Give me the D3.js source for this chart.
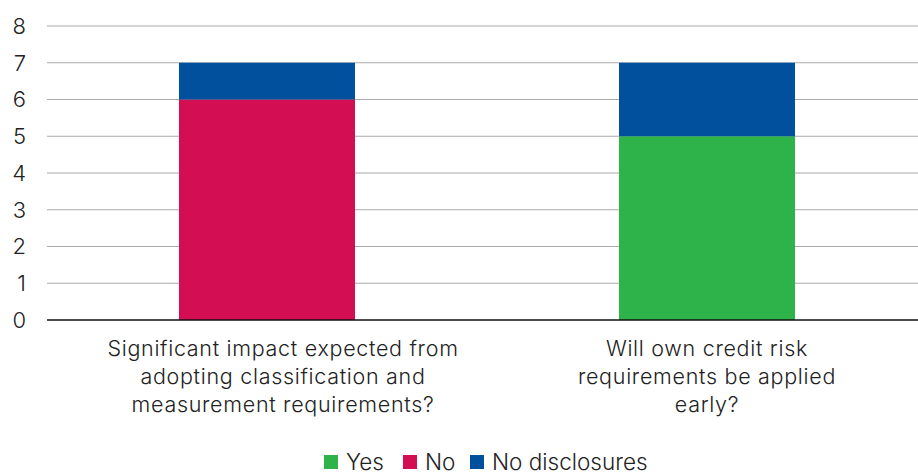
<!DOCTYPE html>
<html><head><meta charset="utf-8">
<script src="https://cdn.jsdelivr.net/npm/d3@7"></script>
<style>body{margin:0;background:#fff}svg text{font-family:Inter,Roboto,"Liberation Sans",sans-serif;font-weight:300;fill:#222}</style>
</head><body>
<svg id="c" width="918" height="472"></svg>
<script>
const categories = [
  ["Significant impact expected from","adopting classification and","measurement requirements?"],
  ["Will own credit risk","requirements be applied","early?"]
];
const categoryKeys = ["impact","owncredit"];
const seriesNames = ["Yes","No","No disclosures"];
const yesValues = [0,5];
const noValues = [6,0];
const noDisclosureValues = [1,2];
const yTicks = [0,1,2,3,4,5,6,7,8];
const colors = ["#2db34a","#d40e52","#00509e"];

const svg = d3.select("#c");
const x = d3.scaleBand().domain(categoryKeys).range([47,927]).paddingInner(0.6).paddingOuter(0.3);
const y = d3.scaleLinear().domain([0,8]).range([320,26]);

const rows = categoryKeys.map((k,i)=>({key:k,"Yes":yesValues[i],"No":noValues[i],"No disclosures":noDisclosureValues[i]}));
const stacked = d3.stack().keys(seriesNames)(rows);

svg.append("g").selectAll("line").data(yTicks.filter(t=>t>0)).join("line")
  .attr("x1",47).attr("x2",918).attr("y1",d=>y(d)).attr("y2",d=>y(d))
  .attr("stroke","#aaa").attr("stroke-width",1.2);

svg.append("g").selectAll("text").data(yTicks).join("text")
  .attr("x",26).attr("y",d=>y(d)).attr("dy","0.36em").attr("text-anchor","end")
  .attr("font-size",22).text(d=>d);

svg.append("g").selectAll("g").data(stacked).join("g")
  .attr("fill",(d,i)=>colors[i])
  .selectAll("rect").data(d=>d).join("rect")
  .attr("x",d=>x(d.data.key)).attr("width",x.bandwidth())
  .attr("y",d=>y(d[1])).attr("height",d=>y(d[0])-y(d[1]));

svg.append("line").attr("x1",47).attr("x2",918).attr("y1",y(0)).attr("y2",y(0))
  .attr("stroke","#111").attr("stroke-width",1.5);

const labelShift = [16,0];
const cl = svg.append("g").selectAll("text").data(categoryKeys).join("text")
  .attr("text-anchor","middle").attr("font-size",21.5).attr("letter-spacing",0.7);
cl.each(function(k,i){
  const t=d3.select(this);
  categories[i].forEach((line,j)=>{
    t.append("tspan").attr("x",x(k)+x.bandwidth()/2+labelShift[i]).attr("y",356+j*28).text(line);
  });
});

const legX = [324,403,470];
const lg = svg.append("g").selectAll("g").data(seriesNames).join("g")
  .attr("transform",(d,i)=>`translate(${legX[i]},455)`);
lg.append("rect").attr("width",14).attr("height",14).attr("fill",(d,i)=>colors[i]);
lg.append("text").attr("x",22).attr("y",15).attr("font-size",22.5).text(d=>d);
</script>
</body></html>
